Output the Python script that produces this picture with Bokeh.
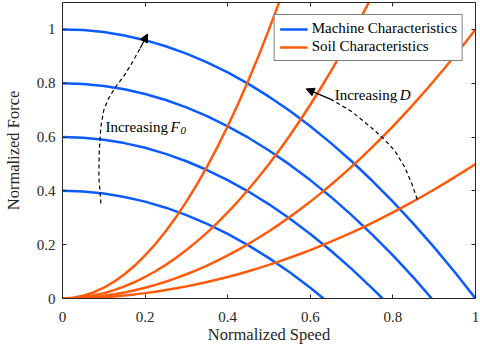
from bokeh.plotting import figure
from bokeh.models import (Range1d, LinearAxis, FixedTicker, CustomJSTickFormatter,
                          Legend, LegendItem, Arrow, NormalHead)
from bokeh.core.properties import value
from bokeh.embed import file_html
from bokeh.resources import INLINE

# ---------------- data ----------------
speed = [0.0, 0.05, 0.10, 0.15, 0.20, 0.25, 0.30, 0.35, 0.40, 0.45, 0.50,
         0.55, 0.60, 0.65, 0.70, 0.75, 0.80, 0.85, 0.90, 0.95, 1.0]
speed_fine = [0.0, 0.025, 0.05, 0.075, 0.10, 0.125, 0.15, 0.175, 0.20, 0.225, 0.25,
              0.275, 0.30, 0.325, 0.35, 0.375, 0.40, 0.425, 0.45, 0.475, 0.50,
              0.525, 0.55, 0.575, 0.60, 0.625, 0.65, 0.675, 0.70, 0.725, 0.75,
              0.775, 0.80, 0.825, 0.85, 0.875, 0.90, 0.925, 0.95, 0.975, 1.0]

# Machine characteristics (blue), one curve per F0
machine_speed_10 = speed
machine_force_10 = [1.0, 0.9975, 0.99, 0.9775, 0.96, 0.9375, 0.91, 0.8775, 0.84, 0.7975, 0.75,
                    0.6975, 0.64, 0.5775, 0.51, 0.4375, 0.36, 0.2775, 0.19, 0.0975, 0.0]
machine_speed_08 = speed[:18] + [0.894]
machine_force_08 = [0.8, 0.7975, 0.79, 0.7775, 0.76, 0.7375, 0.71, 0.6775, 0.64, 0.5975, 0.55,
                    0.4975, 0.44, 0.3775, 0.31, 0.2375, 0.16, 0.0775, 0.0]
machine_speed_06 = speed[:16] + [0.775]
machine_force_06 = [0.6, 0.5975, 0.59, 0.5775, 0.56, 0.5375, 0.51, 0.4775, 0.44, 0.3975, 0.35,
                    0.2975, 0.24, 0.1775, 0.11, 0.0375, 0.0]
machine_speed_04 = speed[:13] + [0.632]
machine_force_04 = [0.4, 0.3975, 0.39, 0.3775, 0.36, 0.3375, 0.31, 0.2775, 0.24, 0.1975, 0.15,
                    0.0975, 0.04, 0.0]

# Soil characteristics (orange), one curve per D
soil_speed_05 = speed_fine
soil_force_05 = [0.0, 0.0003, 0.0013, 0.0028, 0.005, 0.0078, 0.0113, 0.0153, 0.02, 0.0253, 0.0313,
                 0.0378, 0.045, 0.0528, 0.0613, 0.0703, 0.08, 0.0903, 0.1013, 0.1128, 0.125,
                 0.1378, 0.1513, 0.1653, 0.18, 0.1953, 0.2113, 0.2278, 0.245, 0.2628, 0.2813,
                 0.3003, 0.32, 0.3403, 0.3613, 0.3828, 0.405, 0.4278, 0.4513, 0.4753, 0.5]
soil_speed_1 = speed_fine
soil_force_1 = [0.0, 0.0006, 0.0025, 0.0056, 0.01, 0.0156, 0.0225, 0.0306, 0.04, 0.0506, 0.0625,
                0.0756, 0.09, 0.1056, 0.1225, 0.1406, 0.16, 0.1806, 0.2025, 0.2256, 0.25,
                0.2756, 0.3025, 0.3306, 0.36, 0.3906, 0.4225, 0.4556, 0.49, 0.5256, 0.5625,
                0.6006, 0.64, 0.6806, 0.7225, 0.7656, 0.81, 0.8556, 0.9025, 0.9506, 1.0]
soil_speed_2 = speed_fine[:31]
soil_force_2 = [0.0, 0.0013, 0.005, 0.0113, 0.02, 0.0313, 0.045, 0.0613, 0.08, 0.1013, 0.125,
                0.1513, 0.18, 0.2113, 0.245, 0.2813, 0.32, 0.3613, 0.405, 0.4513, 0.5,
                0.5513, 0.605, 0.6613, 0.72, 0.7813, 0.845, 0.9113, 0.98, 1.0513, 1.125]
soil_speed_4 = speed_fine[:23]
soil_force_4 = [0.0, 0.0025, 0.01, 0.0225, 0.04, 0.0625, 0.09, 0.1225, 0.16, 0.2025, 0.25,
                0.3025, 0.36, 0.4225, 0.49, 0.5625, 0.64, 0.7225, 0.81, 0.9025, 1.0,
                1.1025, 1.21]

tick_values = [0, 0.2, 0.4, 0.6, 0.8, 1.0]

# annotation paths
arrow_f0_x = [0.093, 0.088, 0.089, 0.093, 0.100, 0.112, 0.128, 0.150, 0.170, 0.188, 0.206]
arrow_f0_y = [0.353, 0.45, 0.55, 0.64, 0.70, 0.745, 0.785, 0.83, 0.88, 0.93, 0.983]
arrow_d_x = [0.859, 0.845, 0.828, 0.805, 0.779, 0.747, 0.70, 0.65, 0.59]
arrow_d_y = [0.368, 0.43, 0.49, 0.548, 0.592, 0.636, 0.695, 0.74, 0.779]

BLUE = "#0A5CFF"
ORANGE = "#FF5A0A"
FONT = "Liberation Serif"
DARK = "#262626"

p = figure(width=480, height=349, output_backend="svg", toolbar_location=None,
           x_range=Range1d(0, 1), y_range=Range1d(0, 1.1),
           min_border_left=60, min_border_right=5, min_border_top=2, min_border_bottom=51,
           x_axis_label="Normalized Speed", y_axis_label="Normalized Force")
p.grid.visible = False
p.outline_line_color = None
p.background_fill_color = "white"
p.border_fill_color = "white"

fmt = CustomJSTickFormatter(code="return String(Math.round(tick*10)/10);")
for ax in p.xaxis + p.yaxis:
    ax.ticker = FixedTicker(ticks=tick_values)
    ax.formatter = fmt
    ax.major_tick_in = 4
    ax.major_tick_out = 0
    ax.minor_tick_in = 0
    ax.minor_tick_out = 0
    ax.axis_line_color = DARK
    ax.major_tick_line_color = DARK
    ax.major_label_text_font = FONT
    ax.major_label_text_font_size = "15px"
    ax.major_label_text_color = DARK
    ax.axis_label_text_font = FONT
    ax.axis_label_text_font_size = "16.5px"
    ax.axis_label_text_font_style = "normal"
    ax.axis_label_text_color = DARK
p.xaxis.major_label_standoff = 13
p.xaxis.axis_label_standoff = 0
p.yaxis.major_label_standoff = 7
p.yaxis.axis_label_standoff = 11

blank = CustomJSTickFormatter(code="return '';")
for loc in ("above", "right"):
    ax = LinearAxis(ticker=FixedTicker(ticks=tick_values), formatter=blank,
                    major_label_text_font_size="0px",
                    major_tick_in=4, major_tick_out=0,
                    minor_tick_in=0, minor_tick_out=0, major_label_standoff=0,
                    axis_line_color=DARK, major_tick_line_color=DARK)
    p.add_layout(ax, loc)

lw = 2.5
m1 = p.line(machine_speed_10, machine_force_10, line_color=BLUE, line_width=lw)
p.line(machine_speed_08, machine_force_08, line_color=BLUE, line_width=lw)
p.line(machine_speed_06, machine_force_06, line_color=BLUE, line_width=lw)
p.line(machine_speed_04, machine_force_04, line_color=BLUE, line_width=lw)
s1 = p.line(soil_speed_05, soil_force_05, line_color=ORANGE, line_width=lw)
p.line(soil_speed_1, soil_force_1, line_color=ORANGE, line_width=lw)
p.line(soil_speed_2, soil_force_2, line_color=ORANGE, line_width=lw)
p.line(soil_speed_4, soil_force_4, line_color=ORANGE, line_width=lw)

# dashed arrows
for xs, ys in ((arrow_f0_x, arrow_f0_y), (arrow_d_x, arrow_d_y)):
    p.line(xs[:-1], ys[:-1], line_color="black", line_width=1.2, line_dash="4 3")
    p.add_layout(Arrow(end=NormalHead(size=8, fill_color="black", line_color="black", line_width=1),
                       x_start=xs[-2], y_start=ys[-2], x_end=xs[-1], y_end=ys[-1],
                       line_color="black", line_width=1.2))

# annotation texts
tf = value(FONT)
p.text(x=[0.104], y=[0.639], text=["Increasing"], text_font=tf, text_font_size="15px",
       text_baseline="middle", text_align="left", text_color="black")
p.text(x=[0.104], y=[0.639], text=["F"], x_offset=65, text_font=tf, text_font_size="15px",
       text_font_style="italic", text_baseline="middle", text_align="left", text_color="black")
p.text(x=[0.104], y=[0.639], text=["0"], x_offset=75, y_offset=4, text_font=tf,
       text_font_size="11px", text_font_style="italic", text_baseline="middle",
       text_align="left", text_color="black")
p.text(x=[0.659], y=[0.757], text=["Increasing"], text_font=tf, text_font_size="15px",
       text_baseline="middle", text_align="left", text_color="black")
p.text(x=[0.659], y=[0.757], text=["D"], x_offset=65, text_font=tf, text_font_size="15px",
       text_font_style="italic", text_baseline="middle", text_align="left", text_color="black")

legend = Legend(items=[LegendItem(label="Machine Characteristics", renderers=[m1]),
                       LegendItem(label="Soil Characteristics", renderers=[s1])],
                location="top_right", margin=12, padding=5, spacing=1,
                glyph_width=28, glyph_height=16, label_height=16, label_standoff=4,
                label_text_font=FONT, label_text_font_size="15px", label_text_color="black",
                border_line_color="black", border_line_width=1,
                background_fill_color="white", background_fill_alpha=1)
p.add_layout(legend)

open("out.html", "w").write(file_html(p, INLINE))
